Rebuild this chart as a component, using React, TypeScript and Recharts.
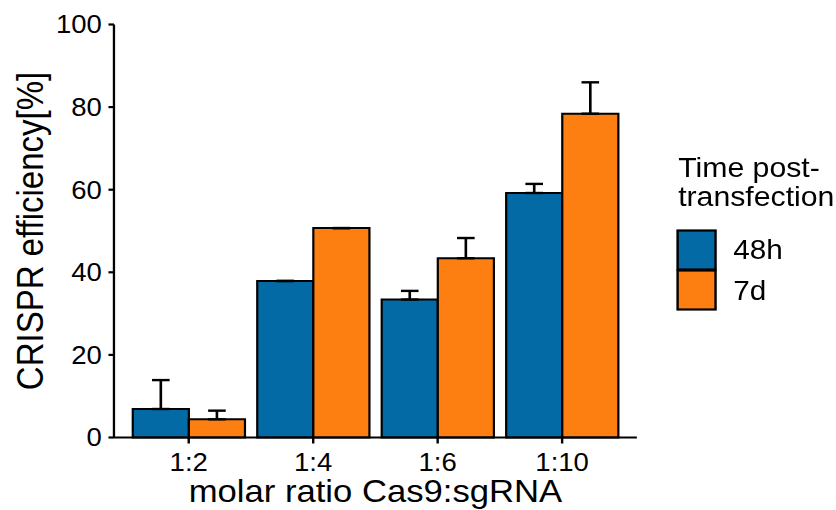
import React from 'react';
import { BarChart, Bar, XAxis, YAxis, ErrorBar, Legend, Label } from 'recharts';

const categories = ['1:2', '1:4', '1:6', '1:10'];
const values48h = [6.9, 37.9, 33.4, 59.2];
const err48h = [7.0, 0, 2.1, 2.2];
const values7d = [4.4, 50.7, 43.4, 78.4];
const err7d = [2.1, 0, 4.9, 7.6];
const yTicks = [0, 20, 40, 60, 80, 100];
const seriesNames = ['48h', '7d'];
const legendTitle = ['Time post-', 'transfection'];
const xTitle = 'molar ratio Cas9:sgRNA';
const yTitle = 'CRISPR efficiency[%]';

const COLORS = ['#036AA6', '#FD7F11'];
const FONT = '"Liberation Sans", Arial, sans-serif';
const STRETCH = 1.1;
const W = 760;
const H = 510;

const data = categories.map((c, i) => ({
  cat: c,
  h48: values48h[i],
  d7: values7d[i],
  e48: [0, err48h[i]],
  e7: [0, err7d[i]],
}));

const XTitle = (props: any) => {
  const vb = props.viewBox || { x: 103.6, width: 475.4 };
  return (
    <text x={vb.x + vb.width / 2} y={502.5} textAnchor="middle" fontSize={31.5} fontFamily={FONT} fill="#000">
      {xTitle}
    </text>
  );
};

const YTitle = () => (
  <text x={39} y={231} transform="rotate(-90 39 231)" textAnchor="middle" fontSize={33} fontFamily={FONT} fill="#000">
    {yTitle}
  </text>
);

const renderLegend = (props: any) => {
  const payload = props.payload || [];
  return (
    <svg width={W} height={H} style={{ position: 'absolute', left: 0, top: 0, overflow: 'visible' }}>
      <text x={616.5} y={177} fontSize={27.5} fontFamily={FONT} fill="#000">{legendTitle[0]}</text>
      <text x={616.5} y={206} fontSize={27.5} fontFamily={FONT} fill="#000">{legendTitle[1]}</text>
      {payload.map((p: any, i: number) => (
        <g key={String(p.value)}>
          <rect x={616} y={230.5 + 40 * i} width={34.5} height={39} fill={COLORS[i]} stroke="#000" strokeWidth={2.2} />
          <text x={666.6} y={259.5 + 41 * i} fontSize={27} fontFamily={FONT} fill="#000">{p.value}</text>
        </g>
      ))}
    </svg>
  );
};

export default function App() {
  return (
    <div
      style={{
        position: 'absolute',
        left: 0,
        top: 0,
        width: W,
        height: H,
        transform: `scaleX(${STRETCH})`,
        transformOrigin: '0 0',
        background: '#fff',
      }}
    >
      <BarChart
        width={W}
        height={H}
        data={data}
        margin={{ top: 24.5, right: 181, left: 0, bottom: 0 }}
        barCategoryGap={5.7}
        barGap={0}
      >
        <XAxis
          dataKey="cat"
          height={72.5}
          padding={{ left: 11.4, right: 11.4 }}
          interval={0}
          tickSize={6}
          tickMargin={9.5}
          axisLine={{ stroke: '#000', strokeWidth: 2.2 }}
          tickLine={{ stroke: '#000', strokeWidth: 2.2 }}
          tick={{ fill: '#000', fontSize: 25, fontFamily: FONT }}
        >
          <Label content={XTitle} />
        </XAxis>
        <YAxis
          width={103.6}
          domain={[0, 100]}
          ticks={yTicks}
          interval={0}
          tickSize={5}
          tickMargin={6}
          axisLine={{ stroke: '#000', strokeWidth: 2.1 }}
          tickLine={{ stroke: '#000', strokeWidth: 2.2 }}
          tick={{ fill: '#000', fontSize: 25, fontFamily: FONT }}
        >
          <Label content={YTitle} />
        </YAxis>
        <Legend
          layout="vertical"
          align="center"
          verticalAlign="middle"
          content={renderLegend}
          wrapperStyle={{ position: 'absolute', left: 0, top: 0, width: W, height: H, pointerEvents: 'none' }}
        />
        <Bar dataKey="h48" name={seriesNames[0]} fill={COLORS[0]} stroke="#000" strokeWidth={2} isAnimationActive={false}>
          <ErrorBar dataKey="e48" direction="y" width={8} stroke="#000" strokeWidth={2.4} />
        </Bar>
        <Bar dataKey="d7" name={seriesNames[1]} fill={COLORS[1]} stroke="#000" strokeWidth={2} isAnimationActive={false}>
          <ErrorBar dataKey="e7" direction="y" width={8} stroke="#000" strokeWidth={2.4} />
        </Bar>
      </BarChart>
    </div>
  );
}
